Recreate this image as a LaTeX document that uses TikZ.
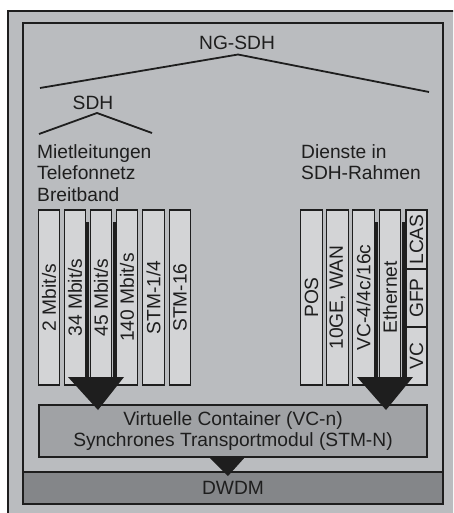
\documentclass[tikz,border=0pt]{standalone}
\usepackage{fontspec}
\setmainfont{Liberation Sans}
\definecolor{bgray}{RGB}{186,188,191}
\definecolor{lgray}{RGB}{211,212,214}
\definecolor{mgray}{RGB}{160,162,165}
\definecolor{dgray}{RGB}{132,134,137}
\definecolor{ink}{RGB}{30,30,30}
\begin{document}
\begin{tikzpicture}[x=1pt,y=-1pt,
  every node/.style={font=\fontsize{19.2}{21.5}\selectfont, text=ink},
  bar/.style={draw=ink, line width=1.3pt, fill=lgray, rotate=90, minimum width=175pt, minimum height=21.5pt, inner sep=0pt},
  seg/.style={draw=ink, line width=1.3pt, fill=lgray, rotate=90, minimum height=21pt, inner sep=0pt},
  box/.style={draw=ink, line width=1.3pt, inner sep=0pt},
  brace/.style={draw=ink, line width=1.8pt},
  shaft/.style={draw=ink, line width=2.6pt},
  head/.style={fill=ink}]
\useasboundingbox (0,0) rectangle (453,513);
\clip (0,0) rectangle (453,513);
\fill[white] (0,0) rectangle (453,513);
\filldraw[fill=bgray, draw=ink, line width=2pt] (8,11) rectangle (480,540);
\filldraw[fill=bgray, draw=ink, line width=2pt] (23,23) rectangle (443,504);
% DWDM
\node[box, fill=dgray, line width=2pt, minimum width=420pt, minimum height=32pt] (dwdm) at (233,488) {DWDM};
% titles
\node (ngsdh) at (237,43) {NG-SDH};
\draw[brace] (40,88) -- (238,54.5) -- (429,92);
\node (sdh) at (93,103) {SDH};
\draw[brace] (39,134) -- (97,113) -- (152,133);
\node[align=left, anchor=north west, inner sep=0pt] (left) at (37,144) {Mietleitungen\\Telefonnetz\\Breitband};
\node[align=left, anchor=north west, inner sep=0pt] (right) at (301,144) {Dienste in\\SDH-Rahmen};
% left bars
\node[bar] (b1) at (49,297.5) {2 Mbit/s};
\node[bar] (b2) at (75,297.5) {34 Mbit/s};
\node[bar] (b3) at (101,297.5) {45 Mbit/s};
\node[bar] (b4) at (127,297.5) {140 Mbit/s};
\node[bar] (b5) at (153.5,297.5) {STM-1/4};
\node[bar] (b6) at (180,297.5) {STM-16};
% right bars
\node[bar] (r1) at (311.5,297.5) {POS};
\node[bar] (r2) at (337.5,297.5) {10GE, WAN};
\node[bar] (r3) at (363.5,297.5) {VC-4/4c/16c};
\node[bar] (r4) at (390,297.5) {Ethernet};
\node[seg, minimum width=59pt] (lcas) at (416.5,239.5) {LCAS};
\node[seg, minimum width=58pt] (gfp) at (416.5,298) {GFP};
\node[seg, minimum width=58pt] (vc) at (416.5,356) {VC};
% VC box
\node[box, fill=mgray, minimum width=388pt, minimum height=52pt, align=center] (vcbox) at (233,431) {Virtuelle Container (VC-n)\\Synchrones Transportmodul (STM-N)};
% arrow shafts
\draw[shaft] (87.5,222) -- (87.5,378);
\draw[shaft] (114.5,222) -- (114.5,378);
\draw[shaft] (376.5,222) -- (376.5,378);
\draw[shaft] (403.5,222) -- (403.5,378);
% arrow heads
\coordinate (tl) at (98,410);
\coordinate (tr) at (386,410);
\coordinate (tb) at (228,476);
\fill[head] (68,377) -- (124,377) -- (tl) -- cycle;
\fill[head] (357,377) -- (413,377) -- (tr) -- cycle;
\fill[head] (208,456) -- (246,456) -- (tb) -- cycle;
\end{tikzpicture}
\end{document}
